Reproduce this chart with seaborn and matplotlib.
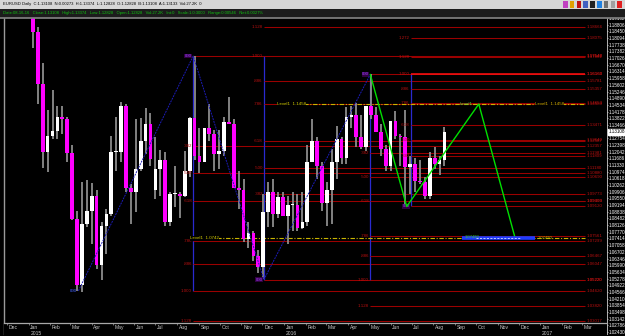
import numpy as np
import pandas as pd
import matplotlib
matplotlib.use("Agg")
import matplotlib.pyplot as plt
import matplotlib.dates as mdates
import seaborn as sns

# ---------------- data ----------------
week_start = ["2015-01-05","2015-01-12","2015-01-19","2015-01-26","2015-02-02","2015-02-09","2015-02-16","2015-02-23",
              "2015-03-02","2015-03-09","2015-03-16","2015-03-23","2015-03-30","2015-04-06","2015-04-13","2015-04-20",
              "2015-04-27","2015-05-04","2015-05-11","2015-05-18","2015-05-25","2015-06-01","2015-06-08","2015-06-15",
              "2015-06-22","2015-06-29","2015-07-06","2015-07-13","2015-07-20","2015-07-27","2015-08-03","2015-08-10",
              "2015-08-17","2015-08-24","2015-08-31","2015-09-07","2015-09-14","2015-09-21","2015-09-28","2015-10-05",
              "2015-10-12","2015-10-19","2015-10-26","2015-11-02","2015-11-09","2015-11-16","2015-11-23","2015-11-30",
              "2015-12-07","2015-12-14","2015-12-21","2015-12-28","2016-01-04","2016-01-11","2016-01-18","2016-01-25",
              "2016-02-01","2016-02-08","2016-02-15","2016-02-22","2016-02-29","2016-03-07","2016-03-14","2016-03-21",
              "2016-03-28","2016-04-04","2016-04-11","2016-04-18","2016-04-25","2016-05-02","2016-05-09","2016-05-16",
              "2016-05-23","2016-05-30","2016-06-06","2016-06-13","2016-06-20","2016-06-27","2016-07-04","2016-07-11",
              "2016-07-18","2016-07-25","2016-08-01","2016-08-08","2016-08-15"]
opens = [1.1950,1.1842,1.1564,1.1204,1.1290,1.1316,1.1389,1.1380,1.1195,1.0845,1.0496,1.0820,1.0890,1.0970,1.0600,1.0810,
         1.0870,1.1200,1.1200,1.1450,1.1010,1.0990,1.1110,1.1260,1.1350,1.1000,1.1110,1.1160,1.0830,1.0980,1.0980,1.0970,
         1.1100,1.1385,1.1180,1.1150,1.1330,1.1300,1.1190,1.1210,1.1360,1.1350,1.1010,1.1000,1.0740,1.0770,1.0650,1.0590,
         1.0880,1.0990,1.0870,1.0960,1.0860,1.0920,1.0920,1.0795,1.0830,1.1150,1.1260,1.1130,1.0930,1.1000,1.1150,1.1270,
         1.1170,1.1390,1.1400,1.1280,1.1230,1.1450,1.1400,1.1310,1.1220,1.1130,1.1370,1.1290,1.1280,1.1120,1.1140,1.1050,
         1.1040,1.0970,1.1170,1.1140,1.1160]
highs = [1.1970,1.1870,1.1679,1.1424,1.1534,1.1450,1.1446,1.1390,1.1240,1.0890,1.1043,1.1052,1.1036,1.1000,1.0830,1.0900,
         1.1290,1.1390,1.1467,1.1460,1.1030,1.1380,1.1385,1.1436,1.1410,1.1280,1.1215,1.1200,1.0990,1.1130,1.0990,1.1210,
         1.1390,1.1714,1.1330,1.1330,1.1460,1.1320,1.1320,1.1390,1.1495,1.1380,1.1100,1.1060,1.0830,1.0780,1.0680,1.0980,
         1.1040,1.1060,1.0990,1.0990,1.0970,1.0990,1.0980,1.0990,1.1240,1.1376,1.1280,1.1150,1.1040,1.1220,1.1340,1.1280,
         1.1440,1.1450,1.1465,1.1400,1.1450,1.1616,1.1440,1.1350,1.1240,1.1370,1.1420,1.1300,1.1427,1.1180,1.1170,1.1160,
         1.1070,1.1200,1.1230,1.1180,1.1337]
lows = [1.1754,1.1460,1.1115,1.1098,1.1270,1.1270,1.1300,1.1150,1.0840,1.0462,1.0458,1.0800,1.0712,1.0580,1.0520,1.0660,
        1.0860,1.1100,1.1150,1.0990,1.0820,1.0880,1.1100,1.1190,1.1130,1.0950,1.0970,1.0810,1.0810,1.0910,1.0850,1.0960,
        1.1070,1.1160,1.1090,1.1150,1.1260,1.1100,1.1110,1.1180,1.1350,1.1010,1.0900,1.0720,1.0690,1.0620,1.0560,1.0524,
        1.0800,1.0800,1.0850,1.0860,1.0710,1.0780,1.0780,1.0790,1.0810,1.1150,1.1060,1.0890,1.0810,1.0820,1.1060,1.1140,
        1.1140,1.1330,1.1230,1.1220,1.1210,1.1380,1.1310,1.1180,1.1100,1.1100,1.1270,1.1130,1.0912,1.0980,1.0990,1.1030,
        1.0950,1.0950,1.1110,1.1080,1.1130]
closes = [1.1842,1.1564,1.1204,1.1290,1.1316,1.1389,1.1380,1.1195,1.0845,1.0496,1.0820,1.0890,1.0970,1.0600,1.0810,1.0870,
          1.1200,1.1200,1.1450,1.1010,1.0990,1.1110,1.1260,1.1350,1.1165,1.1110,1.1160,1.0830,1.0980,1.0980,1.0970,1.1100,
          1.1385,1.1180,1.1150,1.1330,1.1300,1.1190,1.1210,1.1360,1.1350,1.1010,1.1000,1.0740,1.0770,1.0650,1.0590,1.0880,
          1.0990,1.0870,1.0960,1.0860,1.0920,1.0920,1.0795,1.0830,1.1150,1.1260,1.1130,1.0930,1.1000,1.1150,1.1270,1.1170,
          1.1390,1.1400,1.1280,1.1230,1.1450,1.1400,1.1310,1.1220,1.1130,1.1370,1.1290,1.1280,1.1120,1.1140,1.1050,1.1040,
          1.0970,1.1170,1.1140,1.1160,1.1311]

zigzag_dates = ["2015-03-13", "2015-08-24", "2015-12-03", "2016-05-03"]
zigzag_prices = [1.0462, 1.1714, 1.0522, 1.1616]

proj_dates = ["2016-05-03", "2016-06-24", "2016-10-05", "2016-11-26"]
proj_prices = [1.1616, 1.0912, 1.1458, 1.0742]

fib_levels = [0.0, 0.382, 0.5, 0.618, 0.786, 0.886, 1.0, 1.128, 1.272]
fib_level_labels = ["000", ".382", ".500", ".618", ".786", ".886", "1.000", "1.128", "1.272"]
fib_start_dates = ["2015-08-24", "2015-12-03", "2016-05-03", "2016-06-30"]
fib_zero_prices = [1.1714, 1.0522, 1.1616, 1.0912]
fib_one_prices = [1.0462, 1.1714, 1.0522, 1.1616]

level1_dates = ["2015-12-22", "2015-08-20"]
level1_prices = [1.1458, 1.0742]
level1_labels = ["Level1  1.1458", "Level1  1.0742"]

target_dates = ["2016-09-11", "2016-12-24"]
target_price = 1.0742

month_starts = pd.date_range("2014-12-01", "2017-03-01", freq="MS")
month_names = [d.strftime("%b") for d in month_starts]

price_tick_top = 1.19162
price_tick_step = 0.00356
current_price = 1.13108

header1 = "EURUSD Daily  C:1.13108  N:0.00273  H:1.13374  L:1.12828  O:1.12828  B:1.13108  A:1.13133  Vol:27.2K  0"
header2 = ("Date:08-16-16   Close:1.13108   High:1.13374   Low:1.12828   Open:1.12828   Vol:27.2K   Int:0   "
           "Scale:1.0:3000   Range:0.00546   Net:0.0027%")

# ---------------- styling ----------------
sns.set_theme(style="dark", rc={"axes.facecolor": "black", "figure.facecolor": "black"})
plt.rcParams["font.family"] = ["Liberation Sans", "DejaVu Sans"]

W, H = 625, 336
def fbox(x0, y0, x1, y1):
    return [x0 / W, 1 - y1 / H, (x1 - x0) / W, (y1 - y0) / H]

base = pd.Timestamp("2014-12-01")
def px2num(px):
    return mdates.date2num(base + pd.Timedelta(days=(px - 7) / 0.7))
def price_at(py):
    return 1.1714 - (py - 56) * 0.000533

fig = plt.figure(figsize=(6.25, 3.36), dpi=100, facecolor="black")
ax = fig.add_axes(fbox(4, 18, 607, 334))
ax.set_facecolor("black")
xlo, xhi = px2num(4), px2num(607)
ylo, yhi = price_at(334), price_at(18)
right_end = px2num(585)
right_lbl = px2num(587)

DRED = "#9a0000"
LRED = "#b81010"
FS = 3.2

# fib lines
for k in range(len(fib_start_dates)):
    sx = mdates.date2num(pd.Timestamp(fib_start_dates[k]))
    z, o = fib_zero_prices[k], fib_one_prices[k]
    ax.vlines(sx, min(z, o), max(z, o), color="#2a2ad0", lw=0.9, zorder=1)
    for lvl, lab in zip(fib_levels, fib_level_labels):
        p = z + lvl * (o - z)
        if not (ylo < p < yhi):
            continue
        bright = (k == 3 and lvl == 1.0)
        ax.hlines(p, sx, right_end, color="#ff1010" if bright else DRED,
                  lw=1.1 if bright else 0.75, zorder=1)
        if lvl == 0.0:
            ax.annotate(lab, (sx, p), xytext=(-1, 0), textcoords="offset points", ha="right",
                        va="center", fontsize=FS, color="#a040ff", zorder=5,
                        bbox=dict(boxstyle="square,pad=0.05", fc="#300040", ec="none"))
        else:
            ax.annotate(lab, (sx, p), xytext=(-1, 0), textcoords="offset points", ha="right",
                        va="center", fontsize=FS, color=LRED, zorder=5)
        ax.text(right_lbl, p, f"{p:.5f}", ha="left", va="center", fontsize=FS, color=LRED, zorder=5)

# extra swing label at the March low
ax.annotate("000", (mdates.date2num(pd.Timestamp(zigzag_dates[0])), zigzag_prices[0]), xytext=(-1, 0),
            textcoords="offset points", ha="right", va="center", fontsize=FS, color="#4060ff", zorder=5)

# Level1 dash-dot lines
for d, p, lab in zip(level1_dates, level1_prices, level1_labels):
    sx = mdates.date2num(pd.Timestamp(d))
    ax.hlines(p, sx, right_end, color="#c8b400", lw=0.8, linestyles=(0, (4, 1.5, 1, 1.5)), zorder=2)
    ax.text(sx, p, lab, ha="left", va="center", fontsize=FS, color="#d8d000", zorder=6,
            bbox=dict(boxstyle="square,pad=0.05", fc="black", ec="none"))
ax.text(px2num(535), level1_prices[0], level1_labels[0], ha="left", va="center", fontsize=FS,
        color="#d8b000", zorder=6, bbox=dict(boxstyle="square,pad=0.05", fc="black", ec="none"))
ax.text(px2num(460), level1_prices[0], "Level1", ha="left", va="center", fontsize=FS,
        color="#40d040", zorder=6)

# candles
cx = mdates.date2num(pd.to_datetime(week_start) + pd.Timedelta(days=2))
o_ = np.array(opens); c_ = np.array(closes)
ax.vlines(cx, lows, highs, color="#8c8c8c", lw=1.3, zorder=3)
up = c_ >= o_
body_h = np.maximum(np.abs(c_ - o_), 0.0006)
ax.bar(cx[up], body_h[up], bottom=np.minimum(o_, c_)[up], width=5.2, color="white", lw=0, zorder=4)
ax.bar(cx[~up], body_h[~up], bottom=np.minimum(o_, c_)[~up], width=5.2, color="#ff00ff", lw=0, zorder=4)

# zigzag and projection
zz = pd.DataFrame({"x": mdates.date2num(pd.to_datetime(zigzag_dates)), "p": zigzag_prices})
sns.lineplot(data=zz, x="x", y="p", ax=ax, color="#1c1cb8", lw=0.7, sort=False, estimator=None,
             linestyle=(0, (2, 1)), zorder=5)
pj = pd.DataFrame({"x": mdates.date2num(pd.to_datetime(proj_dates)), "p": proj_prices})
sns.lineplot(data=pj, x="x", y="p", ax=ax, color="#00e000", lw=1.0, sort=False, estimator=None, zorder=6)

# target bar
tx = mdates.date2num(pd.to_datetime(target_dates))
ax.hlines(target_price, tx[0], tx[1], color="#1e3cff", lw=2.6, zorder=6)
ax.hlines(target_price, tx[0] + 20, tx[1] - 20, color="white", lw=0.5, linestyles=(0, (3, 2)), zorder=7)
ax.text(tx[0] + 4, target_price + 0.0007, "1.07490", fontsize=3.0, color="#30d030", ha="left", va="center", zorder=8)
ax.text(tx[1] + 4, target_price + 0.0003, "1.07490", fontsize=3.0, color="#b0c000", ha="left", va="center", zorder=8)

# axes limits / ticks
ax.set_xlim(xlo, xhi)
ax.set_ylim(ylo, yhi)
ax.set_xlabel(""); ax.set_ylabel("")
ax.set_xticks([])
ticks = [price_tick_top - i * price_tick_step for i in range(48)]
ax.set_yticks(ticks)
ax.set_yticklabels([f"{t:.5f}" for t in ticks])
ax.yaxis.tick_right()
ax.tick_params(axis="y", colors="white", labelsize=3.3, length=1.0, width=0.4, pad=0.4,
               labelcolor="white", right=True, left=False)
ax.grid(False)
for s in ["top", "bottom"]:
    ax.spines[s].set_visible(False)
ax.spines["left"].set_color("#9a9a9a"); ax.spines["left"].set_linewidth(1.0)
ax.spines["right"].set_color("#d0d0d0"); ax.spines["right"].set_linewidth(0.6)
ax.spines["right"].set_linestyle((0, (1, 1)))
ax.annotate(f"{current_price:.5f}", (1, current_price), xycoords=ax.get_yaxis_transform(),
            xytext=(1.0, 0), textcoords="offset points", ha="left", va="center", fontsize=3.3,
            color="black", bbox=dict(boxstyle="square,pad=0.12", fc="white", ec="white"), zorder=10,
            annotation_clip=False)

# date strip
axd = fig.add_axes(fbox(4, 323, 607, 336))
axd.set_facecolor("black")
axd.set_xlim(xlo, xhi); axd.set_ylim(0, 1)
axd.set_xticks([]); axd.set_yticks([])
for s in ["bottom", "left", "right"]:
    axd.spines[s].set_visible(False)
axd.spines["top"].set_color("#a8a8a8"); axd.spines["top"].set_linewidth(0.9)
mx = mdates.date2num(month_starts)
axd.vlines(mx, 0.82, 1.0, color="#a0a0a0", lw=0.5)
for x, name, d in zip(mx, month_names, month_starts):
    axd.annotate(name, (x, 0.64), xytext=(1.2, 0), textcoords="offset points", ha="left", va="center",
                 fontsize=3.6, color="#c8c8c8")
    if d.month == 1:
        axd.annotate(str(d.year), (x, 0.18), xytext=(1.2, 0), textcoords="offset points", ha="left",
                     va="center", fontsize=3.6, color="#c8c8c8")

# header rows
ah1 = fig.add_axes(fbox(0, 0, 625, 9))
ah1.set_facecolor("#d6d6d6"); ah1.set_xticks([]); ah1.set_yticks([])
for s in ah1.spines.values():
    s.set_visible(False)
ah1.text(3 / 625, 0.5, header1, transform=ah1.transAxes, fontsize=3.0, color="black", va="center", ha="left")
icon_colors = ["#c040c0", "#e0a000", "#c01010", "#4060c0", "#202020", "#2080e0", "#707070", "#a0a0a0", "#e02020"]
for i, col in enumerate(icon_colors):
    ah1.add_patch(plt.Rectangle(((563 + i * 6.8) / 625, 0.15), 4.5 / 625, 0.7, transform=ah1.transAxes,
                                color=col, lw=0))
ah2 = fig.add_axes(fbox(0, 9, 625, 17.5))
ah2.set_facecolor("#1c1c1c"); ah2.set_xticks([]); ah2.set_yticks([])
for s in ah2.spines.values():
    s.set_visible(False)
ah2.spines["bottom"].set_visible(True); ah2.spines["bottom"].set_color("#808080")
ah2.text(3 / 625, 0.5, header2, transform=ah2.transAxes, fontsize=3.0, color="#10c010", va="center", ha="left")

fig.savefig("out.png", dpi=100, facecolor="black")
